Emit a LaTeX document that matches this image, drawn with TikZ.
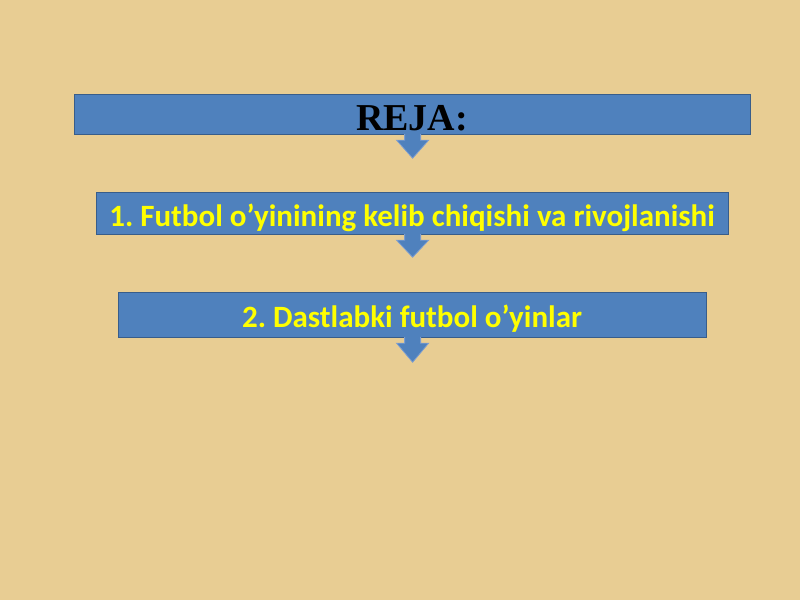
\documentclass[tikz,border=0pt]{standalone}
\usepackage{fontspec}
\setmainfont{Liberation Serif}
\newfontfamily\carl{Carlito}
\usetikzlibrary{calc}
\frenchspacing
\definecolor{parch}{HTML}{E8CD93}
\definecolor{boxblue}{HTML}{4F81BD}
\definecolor{boxedge}{HTML}{385D8A}
\definecolor{arredge}{HTML}{7A9CD0}
\definecolor{txtyel}{HTML}{FFFF00}
\tikzset{
  planbox/.style={draw=boxedge, line width=1.2pt, fill=boxblue, anchor=north west, inner sep=0pt},
  downarrow/.style={fill=boxblue, draw=arredge, line width=0.8pt, line join=miter},
  itemtext/.style={font=\carl\bfseries\fontsize{31}{34}\selectfont, text=txtyel},
}
\begin{document}
\begin{tikzpicture}[x=1pt,y=-1pt]
\fill[parch] (0,0) rectangle (800,600);
\useasboundingbox (0,0) rectangle (800,600);

\node[planbox, minimum width=676pt, minimum height=40pt] (b1) at (74,94) {};
\node[font=\bfseries\fontsize{38}{40}\selectfont, text=black, anchor=base] (t1) at (412,130) {REJA:};

\node[planbox, minimum width=632pt, minimum height=42pt] (b2) at (96,192) {};
\node[itemtext, anchor=base] (t2) at (412,226) {1. Futbol o’yinining kelib chiqishi va rivojlanishi};

\node[planbox, minimum width=588pt, minimum height=45pt] (b3) at (118,292) {};
\node[itemtext, anchor=base] (t3) at (412,327) {2. Dastlabki futbol o’yinlar};

\foreach \b/\d in {b1/23, b2/22, b3/24}{
  \draw[downarrow] ($(\b.south)+(-8,-1)$) -- ($(\b.south)+(-8,5)$) -- ($(\b.south)+(-16,5)$)
    -- ($(\b.south)+(0,\d)$) -- ($(\b.south)+(16,5)$) -- ($(\b.south)+(8,5)$)
    -- ($(\b.south)+(8,-1)$);
}
\end{tikzpicture}
\end{document}
